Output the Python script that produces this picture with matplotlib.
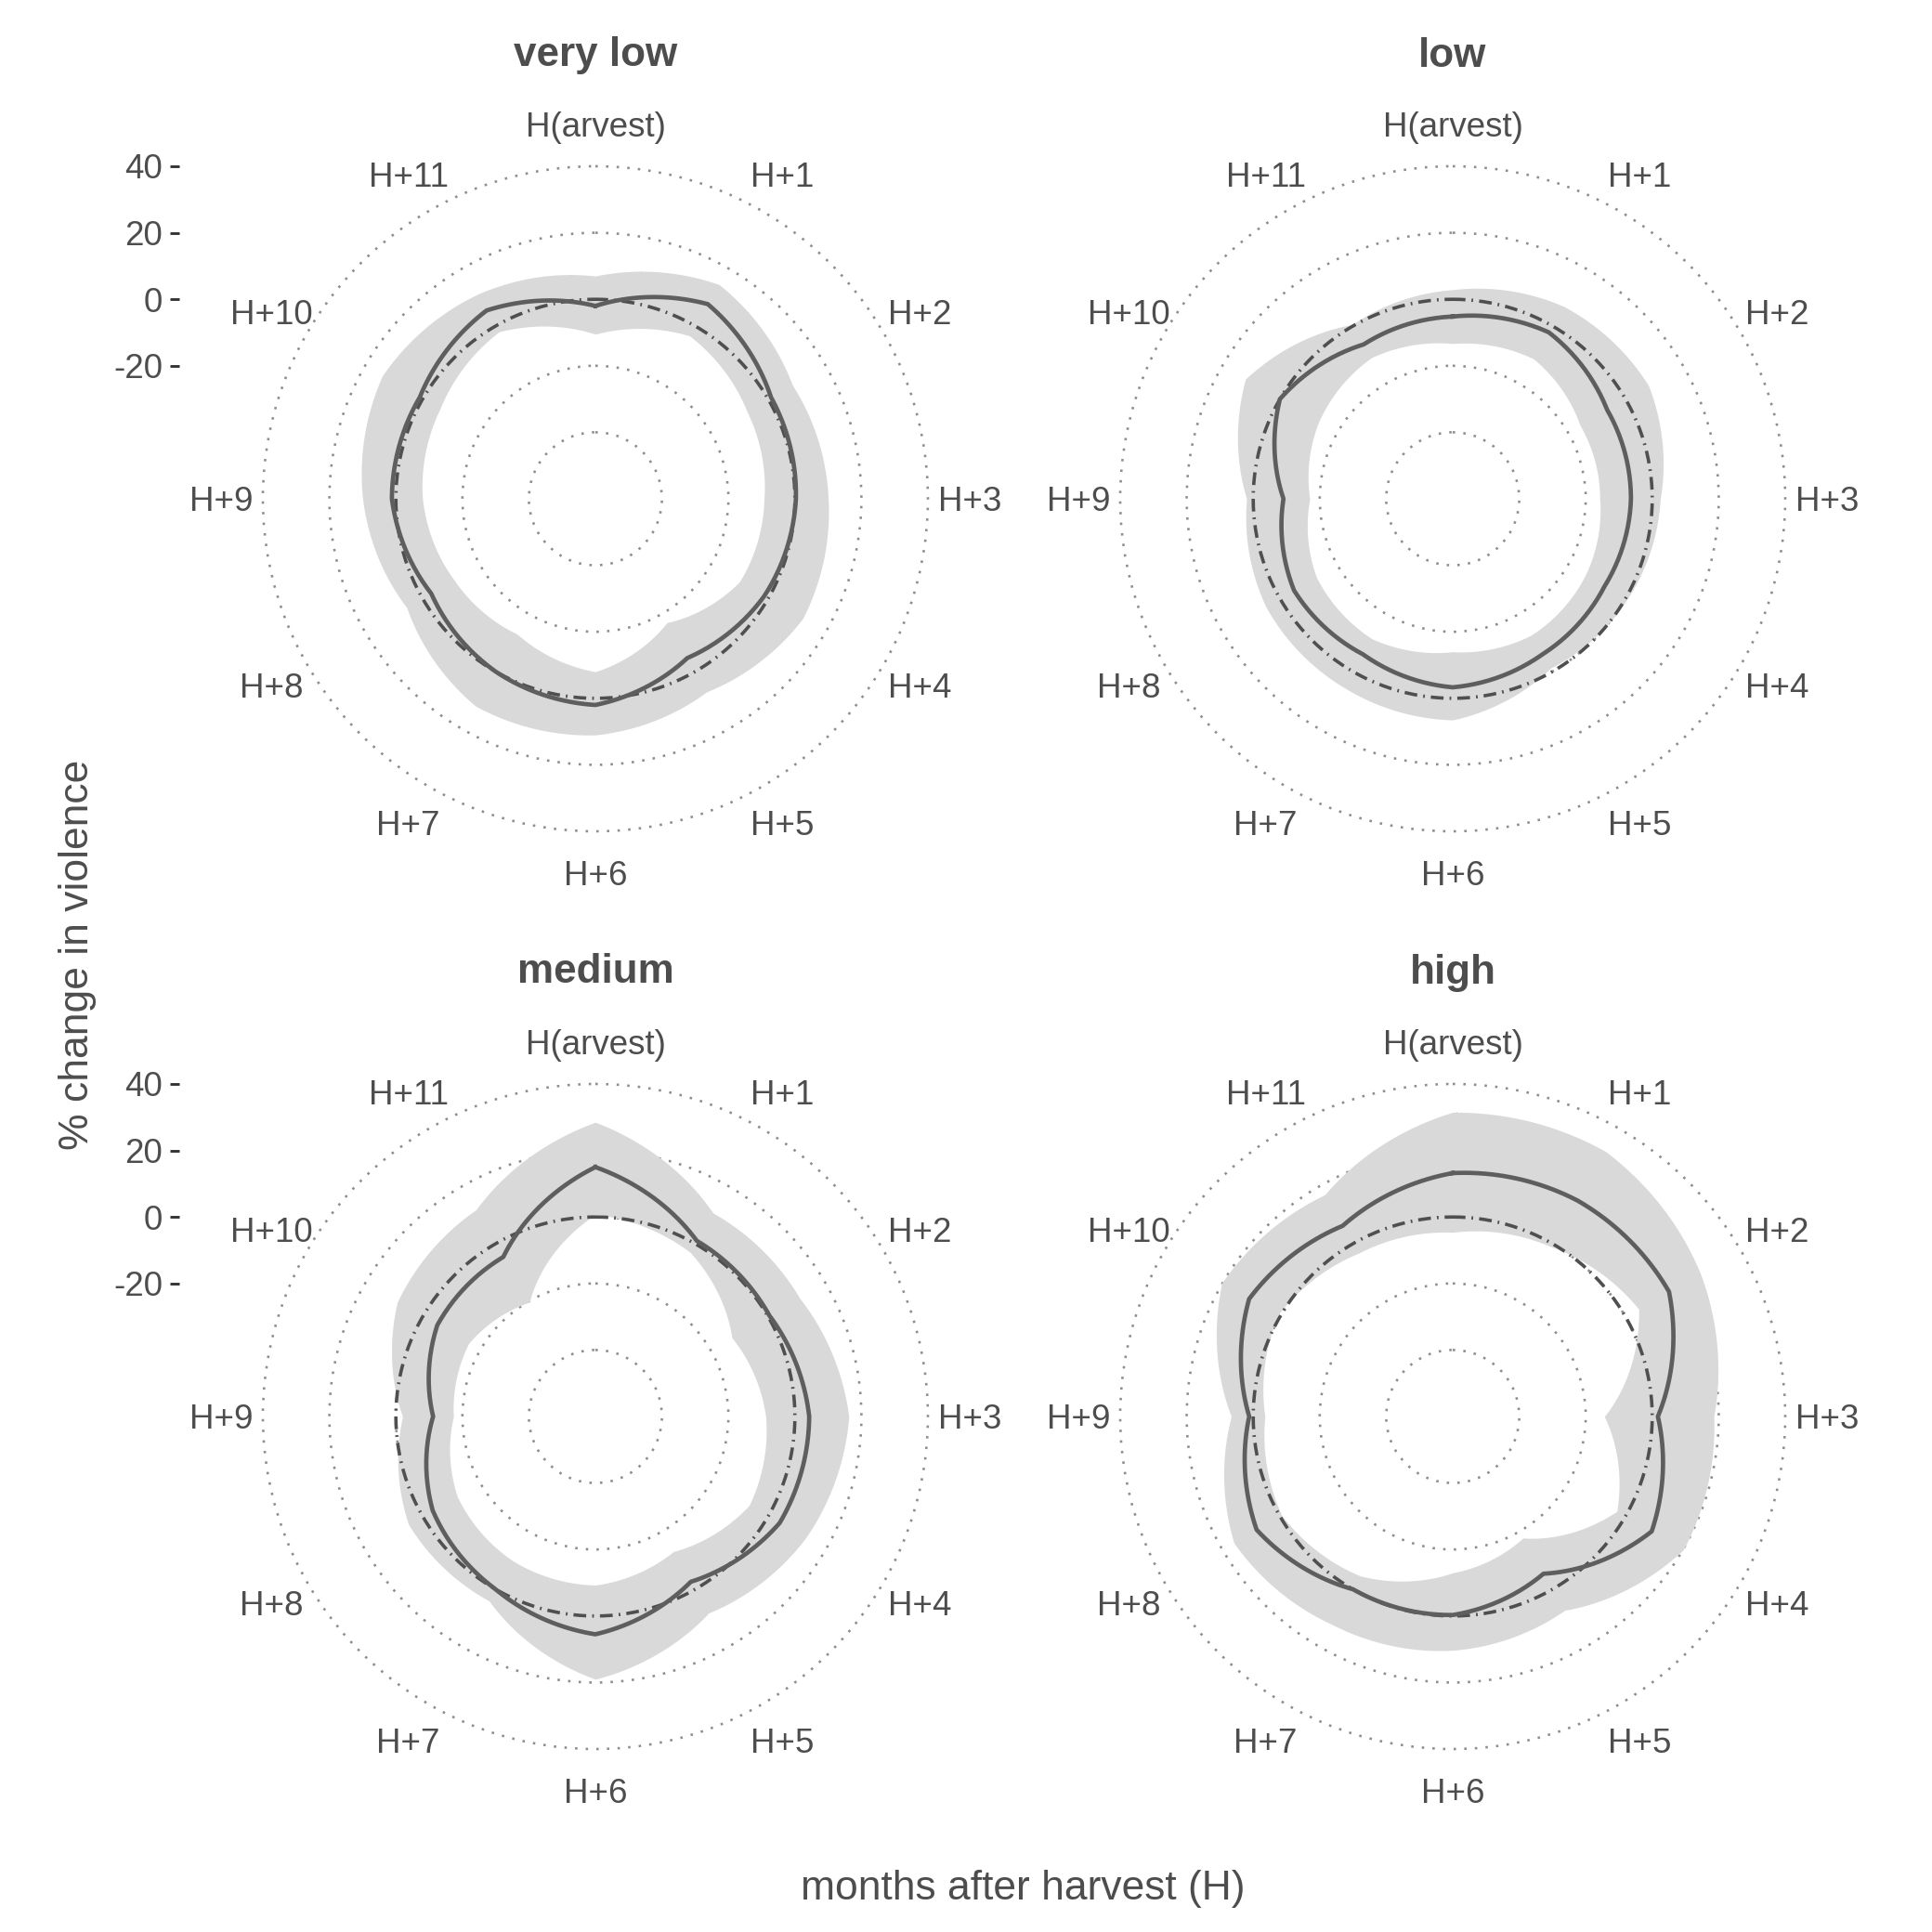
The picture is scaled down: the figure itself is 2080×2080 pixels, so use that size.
import numpy as np
import matplotlib
matplotlib.use("Agg")
import matplotlib.pyplot as plt
from matplotlib.transforms import offset_copy

plt.rcParams['font.family'] = ['Liberation Sans', 'DejaVu Sans']

# ---------------- data ----------------
months = ['H(arvest)', 'H+1', 'H+2', 'H+3', 'H+4', 'H+5', 'H+6',
          'H+7', 'H+8', 'H+9', 'H+10', 'H+11']
panels = ['very low', 'low', 'medium', 'high']

est_very_low = [-2, 7.6, 1, 0.3, -1.4, -4.7, 2, 0, -3, 1.2, 1, 5.4]
low_very_low = [-10.5, -3.4, -7.4, -9.3, -10, -17, -8, -13, -11, -8, -6, -2]
up_very_low = [7, 14.4, 8.4, 10, 12, 7, 11, 12, 5.5, 10, 14, 11]

est_low = [-5.2, -2.2, -6.4, -6.4, -7.3, -6, -3.3, -6, -4.9, -9.1, 0, -6.4]
low_low = [-13.3, -11.4, -15.8, -15.8, -14, -12.7, -14, -11.4, -12.7, -17, -13.5, -11]
up_low = [2.9, 6.8, 8, 2.4, 0.5, -1.2, 6.5, 5.5, 4.9, 2, 12, 0.5]

est_medium = [15, 1, 0.5, 4.3, 4, -2.6, 5.5, 0, -3.5, -11.2, -5.1, -4.6]
low_medium = [0.8, -3, -12.6, -8.8, -6.6, -13.1, -9.3, -10, -12, -17.3, -16, -20.3]
up_medium = [28.5, 10.7, 11, 16.2, 13, 8.2, 19, 4, 4.9, -2, 8.8, 11.8]

est_high = [13.2, 15, 15.1, 1.7, 9.1, -5.4, -0.3, 0, 8.1, 1.2, 10.7, 6.2]
low_high = [-4.6, -1, 4.6, -14.4, -3, -17.8, -13, -4.6, -0.6, -3.5, 0.8, -3.3]
up_high = [31.5, 32, 26, 18.5, 20.1, 7.3, 10.3, 12.3, 16, 6.6, 20.2, 17]

estimates = [est_very_low, est_low, est_medium, est_high]
lowers = [low_very_low, low_low, low_medium, low_high]
uppers = [up_very_low, up_low, up_medium, up_high]

r_breaks = [-40, -20, 0, 20, 40]
r_labels = [-20, 0, 20, 40]
r_min, r_max = -60, 40

# ---------------- style ----------------
TXT = '#4D4D4D'
LINE = '#5E5E5E'
REF = '#4F4F4F'
RIB = '#D9D9D9'
GRID = '#8E8E8E'

W = 2080.0
DPI = 260
fig = plt.figure(figsize=(W / DPI, W / DPI), dpi=DPI)

centers = [(641, 537), (1564, 537), (641, 1525), (1564, 1525)]
R = 358.0  # px radius of outer circle
title_y = [60, 60, 1047, 1047]
label_r = r_min + (r_max - r_min) * 0.45 / 0.4  # theta labels at 0.45 of panel

theta_m = np.arange(12) * 2 * np.pi / 12


def polar_path(vals, steps=40):
    """Linear interpolation in (theta, r) between months, as a polar coord system renders it."""
    th = np.append(theta_m, 2 * np.pi)
    v = np.append(np.asarray(vals, float), vals[0])
    tt = np.linspace(0, 2 * np.pi, 12 * steps + 1)
    return tt, np.interp(tt, th, v)


for i, (cx, cy) in enumerate(centers):
    ax = fig.add_axes([(cx - R) / W, 1 - (cy + R) / W, 2 * R / W, 2 * R / W],
                      projection='polar')
    ax.set_theta_zero_location('N')
    ax.set_theta_direction(-1)
    ax.set_ylim(r_min, r_max)
    ax.spines['polar'].set_visible(False)
    ax.set_facecolor('none')

    tt, lo = polar_path(lowers[i])
    _, hi = polar_path(uppers[i])
    _, es = polar_path(estimates[i])
    ax.fill_between(tt, lo, hi, color=RIB, lw=0, zorder=2)
    ax.plot(tt, np.zeros_like(tt), color=REF, lw=1.0,
            linestyle=(0, (3.8, 1.8, 0.5, 1.8)), zorder=3)
    ax.plot(tt, es, color=LINE, lw=1.3, zorder=4)

    ax.set_yticks(r_breaks)
    ax.set_yticklabels([])
    ax.yaxis.grid(True, color=GRID, lw=0.72, linestyle=(0, (1, 3.4)))
    ax.xaxis.grid(False)
    ax.set_xticks(theta_m)
    ax.set_xticklabels([])
    ax.tick_params(axis='both', length=0)
    for gl in ax.yaxis.get_gridlines():
        gl.set_zorder(1)
        gl.set_clip_on(False)
    lab_tr = offset_copy(ax.transData, fig=fig, x=0, y=-1.0, units='points')
    for th, lab in zip(theta_m, months):
        ax.text(th, label_r, lab, ha='center', va='center', fontsize=10.2,
                color=TXT, clip_on=False, transform=lab_tr)

    fig.text(cx / W, 1 - title_y[i] / W, panels[i], ha='center', va='center',
             fontsize=12.2, fontweight='bold', color=TXT)

    if i in (0, 2):
        axr = fig.add_axes([(cx - 448) / W, 1 - cy / W, 0.0001, R / W])
        axr.set_ylim(r_min, r_max)
        axr.set_yticks(r_labels)
        axr.set_yticklabels([str(v) for v in r_labels])
        axr.set_xticks([])
        for s in axr.spines.values():
            s.set_visible(False)
        axr.tick_params(axis='y', length=2.75, width=0.8, color='#333333',
                        labelsize=10.2, labelcolor=TXT, pad=2.2)
        axr.patch.set_visible(False)

fig.text(1101 / W, 1 - 2034 / W, 'months after harvest (H)', ha='center',
         va='center', fontsize=12.3, color=TXT)
fig.text(84 / W, 1 - 1028 / W, '% change in violence', ha='center',
         va='center', rotation=90, fontsize=12.3, color=TXT)

fig.savefig('out.png', dpi=DPI, facecolor='white')
